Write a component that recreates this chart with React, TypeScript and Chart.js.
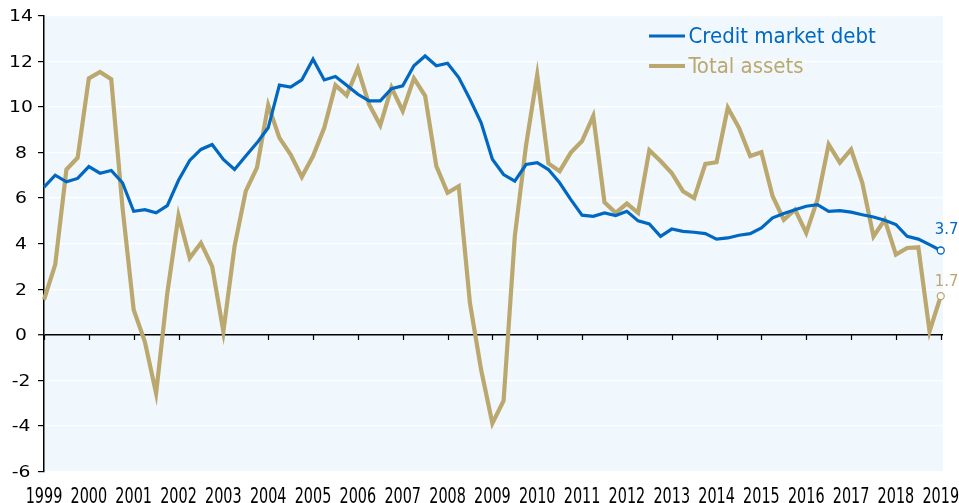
import React, { useEffect, useRef } from "react";
import { Chart, registerables } from "chart.js";

Chart.register(...registerables);

const FONT = "'DejaVu Sans Condensed', 'DejaVu Sans', sans-serif";
const BLUE = "#0068C2";
const GOLD = "#BBA86E";
const BG = "#F0F7FD";

const startYear = 1999;
const yearTicks = [
  1999, 2000, 2001, 2002, 2003, 2004, 2005, 2006, 2007, 2008, 2009, 2010,
  2011, 2012, 2013, 2014, 2015, 2016, 2017, 2018, 2019,
];
const yTicks = [-6, -4, -2, 0, 2, 4, 6, 8, 10, 12, 14];
const seriesNames = ["Credit market debt", "Total assets"];

// Quarterly values, 1999Q1 .. 2019Q1
const creditMarketDebt = [
  6.48, 7.0, 6.71, 6.86, 7.38, 7.09, 7.21, 6.67, 5.42, 5.49, 5.35, 5.67,
  6.78, 7.65, 8.13, 8.35, 7.69, 7.25, 7.84, 8.42, 9.08, 10.95, 10.87, 11.18,
  12.09, 11.18, 11.33, 10.95, 10.55, 10.26, 10.26, 10.8, 10.92, 11.8, 12.23, 11.8,
  11.91, 11.28, 10.33, 9.3, 7.7, 7.03, 6.74, 7.47, 7.55, 7.25, 6.67, 5.93,
  5.25, 5.2, 5.35, 5.23, 5.42, 5.0, 4.86, 4.32, 4.64, 4.54, 4.5, 4.44,
  4.2, 4.25, 4.37, 4.44, 4.69, 5.13, 5.32, 5.49, 5.64, 5.71, 5.42, 5.45,
  5.38, 5.27, 5.17, 5.03, 4.84, 4.32, 4.2, 3.96, 3.7,
];
const totalAssets = [
  1.54, 3.08, 7.25, 7.77, 11.25, 11.53, 11.21, 5.6, 1.1, -0.3, -2.56, 1.83,
  5.23, 3.37, 4.03, 3.0, 0.15, 3.88, 6.3, 7.33, 10.08, 8.64, 7.91, 6.93,
  7.84, 9.08, 10.95, 10.5, 11.68, 10.11, 9.19, 10.84, 9.82, 11.25, 10.48, 7.4,
  6.23, 6.52, 1.39, -1.54, -3.88, -2.89, 4.32, 8.3, 11.4, 7.52, 7.18, 7.99,
  8.5, 9.6, 5.82, 5.35, 5.76, 5.35, 8.1, 7.62, 7.1, 6.3, 6.0, 7.5,
  7.57, 9.96, 9.08, 7.84, 8.01, 6.08, 5.05, 5.49, 4.47, 5.93, 8.35, 7.55,
  8.13, 6.67, 4.32, 5.05, 3.52, 3.81, 3.84, 0.15, 1.7,
];

const toPoints = (vals: number[]) =>
  vals.map((v, i) => ({ x: startYear + i / 4, y: v }));

const customPlugin = {
  id: "customDecor",
  beforeDraw(chart: any) {
    const { ctx, chartArea: a } = chart;
    ctx.save();
    ctx.fillStyle = BG;
    ctx.fillRect(a.left, a.top, a.right - a.left, a.bottom - a.top);
    ctx.restore();
  },
  beforeDatasetsDraw(chart: any) {
    const { ctx, scales, chartArea } = chart;
    const x = scales.x;
    const y = scales.y;
    const y0 = Math.round(y.getPixelForValue(0));
    ctx.save();
    ctx.strokeStyle = "#000";
    ctx.lineWidth = 1.2;
    yearTicks.forEach((yr) => {
      const px = Math.round(x.getPixelForValue(yr)) + 0.5;
      ctx.beginPath();
      ctx.moveTo(px, y0);
      ctx.lineTo(px, y0 + 5);
      ctx.stroke();
    });
    // tick labels
    ctx.fillStyle = "#000";
    ctx.font = `16px ${FONT}`;
    ctx.textAlign = "center";
    ctx.textBaseline = "middle";
    yearTicks.forEach((yr) => {
      const px = x.getPixelForValue(yr);
      ctx.save();
      ctx.translate(px, chartArea.bottom + 25.5);
      ctx.scale(1, 1.28);
      ctx.fillText(String(yr), 0, 0);
      ctx.restore();
    });
    yTicks.forEach((v) => {
      const py = y.getPixelForValue(v);
      ctx.save();
      ctx.translate(21, py + 1.2);
      ctx.scale(1.3, 1);
      ctx.fillText(String(v), 0, 0);
      ctx.restore();
    });
    ctx.restore();
  },
  afterDraw(chart: any) {
    const { ctx } = chart;
    ctx.save();
    // legend
    const colors = [BLUE, GOLD];
    const widths = [3, 4];
    const rows = [36, 66];
    ctx.font = `22px ${FONT}`;
    ctx.textBaseline = "middle";
    ctx.textAlign = "left";
    seriesNames.forEach((name, k) => {
      ctx.strokeStyle = colors[k];
      ctx.lineWidth = widths[k];
      ctx.beginPath();
      ctx.moveTo(649, rows[k]);
      ctx.lineTo(685, rows[k]);
      ctx.stroke();
      ctx.fillStyle = colors[k];
      ctx.fillText(name, 688.5, rows[k] + 1);
    });
    // end labels
    ctx.font = `16.5px ${FONT}`;
    const offsets = [-21, -14.5];
    [creditMarketDebt, totalAssets].forEach((vals, k) => {
      const meta = chart.getDatasetMeta(k);
      const pt = meta.data[vals.length - 1];
      ctx.fillStyle = colors[k];
      ctx.fillText(vals[vals.length - 1].toFixed(1), pt.x - 6, pt.y + offsets[k]);
    });
    ctx.restore();
  },
};

export default function App() {
  const ref = useRef<HTMLCanvasElement | null>(null);
  useEffect(() => {
    if (!ref.current) return;
    const lastIdx = creditMarketDebt.length - 1;
    const chart = new Chart(ref.current, {
      type: "line",
      data: {
        datasets: [
          {
            label: seriesNames[0],
            data: toPoints(creditMarketDebt),
            borderColor: BLUE,
            borderWidth: 3.2,
            pointRadius: (c: any) => (c.dataIndex === lastIdx ? 3.5 : 0),
            pointBackgroundColor: "#fff",
            pointBorderColor: BLUE,
            pointBorderWidth: 1.3,
            tension: 0,
            clip: false as any,
          },
          {
            label: seriesNames[1],
            data: toPoints(totalAssets),
            borderColor: GOLD,
            borderWidth: 4.2,
            pointRadius: (c: any) => (c.dataIndex === lastIdx ? 3.5 : 0),
            pointBackgroundColor: "#fff",
            pointBorderColor: GOLD,
            pointBorderWidth: 1.3,
            tension: 0,
            clip: false as any,
          },
        ],
      },
      options: {
        animation: false,
        responsive: false,
        devicePixelRatio: 1,
        events: [],
        layout: { padding: { top: 15.6, right: 16, left: 0, bottom: 0 } },
        plugins: {
          legend: { display: false },
          tooltip: { enabled: false },
        },
        scales: {
          x: {
            type: "linear",
            min: startYear,
            max: 2019.05,
            afterBuildTicks: (s: any) => {
              s.ticks = yearTicks.map((v) => ({ value: v }));
            },
            afterFit: (s: any) => {
              s.height = 31.3;
            },
            ticks: { display: false },
            grid: { display: false },
            border: { display: false },
          },
          y: {
            type: "linear",
            min: -6,
            max: 14,
            afterBuildTicks: (s: any) => {
              s.ticks = yTicks.map((v) => ({ value: v }));
            },
            afterFit: (s: any) => {
              s.width = 44;
            },
            ticks: { display: false },
            grid: {
              color: (c: any) => (c.tick && c.tick.value === 0 ? "#000" : "#fff"),
              lineWidth: (c: any) => (c.tick && c.tick.value === 0 ? 1.5 : 1.2),
              tickColor: "#000",
              tickLength: 6,
              tickWidth: 1.2,
            },
            border: { display: true, color: "#000", width: 1.5 },
          },
        },
      },
      plugins: [customPlugin],
    });
    return () => chart.destroy();
  }, []);
  return (
    <div style={{ position: "fixed", left: 0, top: 0, width: 959, height: 503, background: "#fff" }}>
      <canvas ref={ref} width={959} height={503} style={{ display: "block" }} />
    </div>
  );
}
